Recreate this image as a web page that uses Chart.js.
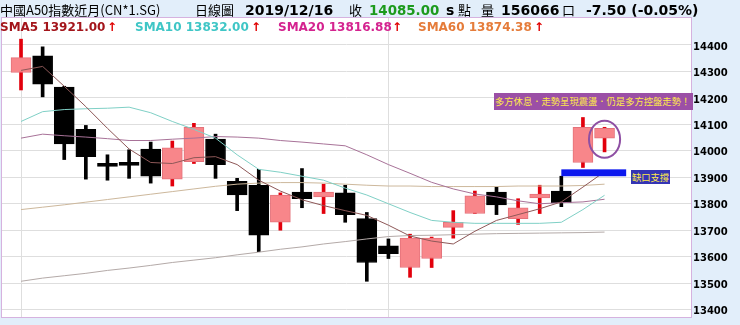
<!DOCTYPE html>
<html lang="zh-Hant">
<head>
<meta charset="utf-8">
<title>中國A50指數近月 日線圖</title>
<script src="https://cdn.jsdelivr.net/npm/chart.js@4.4.1/dist/chart.umd.min.js"></script>
<style>
  html, body { margin: 0; padding: 0; background: #e2eefa; }
  #wrap { position: relative; width: 740px; height: 325px; overflow: hidden; background: #e2eefa; }
  #chart { position: absolute; left: 0; top: 0; }
  .t { position: absolute; white-space: nowrap; line-height: 1; z-index: 2; }
  .cjk { font-family: "Noto Sans CJK TC", sans-serif; font-size: 13px; color: #000; top: 3px; }
  .hd  { font-family: "DejaVu Sans", sans-serif; font-weight: bold; font-size: 14px; color: #000; top: 3px; }
  .lg  { font-family: "DejaVu Sans", sans-serif; font-weight: bold; font-size: 12px; top: 21px; }
  .up  { color: #e00000; }
  .note { font-family: "Noto Sans CJK TC", sans-serif; color: #ffe94a; font-size: 9.3px;
          line-height: 17px; box-sizing: border-box; }
</style>
</head>
<body>
<div id="wrap">
  <canvas id="chart" width="740" height="325"></canvas>

  <!-- ── Encabezado ───────────────────────────────────────── -->
  <span class="t cjk" style="left:0">中國A50指數近月(CN*1.SG)</span>
  <span class="t cjk" style="left:195px">日線圖</span>
  <span class="t hd"  style="left:245px">2019/12/16</span>
  <span class="t cjk" style="left:349px">收</span>
  <span class="t hd"  style="left:369px;font-size:13.4px;top:3.5px;color:#1c9a1c">14085.00</span>
  <span class="t hd"  style="left:446px">s</span>
  <span class="t cjk" style="left:458px">點</span>
  <span class="t cjk" style="left:481px">量</span>
  <span class="t hd"  style="left:501px">156066</span>
  <span class="t cjk" style="left:562px">口</span>
  <span class="t hd"  style="left:586px">-7.50 (-0.05%)</span>

  <!-- ── Leyenda de medias ────────────────────────────────── -->
  <span class="t lg" style="left:0;color:#a3151b">SMA5 13921.00</span>
  <span class="t lg up" style="left:107px">↑</span>
  <span class="t lg" style="left:135px;color:#3fc6c6">SMA10 13832.00</span>
  <span class="t lg up" style="left:251px">↑</span>
  <span class="t lg" style="left:278px;color:#d4238f">SMA20 13816.88</span>
  <span class="t lg up" style="left:392px">↑</span>
  <span class="t lg" style="left:418px;color:#e57c3a">SMA60 13874.38</span>
  <span class="t lg up" style="left:534px">↑</span>

  <!-- ── Notas ────────────────────────────────────────────── -->
  <div class="t note" style="left:494px;top:93px;width:199px;height:17px;background:#9b4fa6;padding-left:1px">多方休息．走勢呈現震盪．仍是多方控盤走勢！</div>
  <div class="t note" style="left:631px;top:170px;width:39px;height:14px;line-height:14px;background:#3434b4;text-align:center">缺口支撐</div>
</div>

<script>
// ── Datos (velas diarias, índice 0..27) ──────────────────────
const openP  = [14296,14359,14241,14081,13952,13956,14007,13893,13959,14044,13885,13870,13730,13844,
                13826,13841,13744,13641,13559,13593,13711,13763,13844,13744,13822,13848,13956,14048];
const closeP = [14352,14252,14026,13978,13941,13945,13904,14011,14089,13948,13833,13681,13833,13819,
                13844,13759,13578,13611,13670,13670,13730,13830,13796,13785,13837,13804,14089,14085];
const highP  = [14422,14393,14244,14096,13985,14004,14033,14037,14104,14063,13896,13930,13841,13933,
                13874,13870,13767,13667,13685,13674,13774,13848,13863,13819,13870,13904,14126,14089];
const lowP   = [14230,14204,13967,13893,13889,13896,13878,13867,13952,13896,13774,13619,13700,13785,
                13763,13730,13507,13593,13522,13559,13670,13763,13759,13722,13763,13789,13937,13996];

const sma5   = [14304,14319,14244,14167,14085,14007,13956,13952,13974,13978,13948,13889,13848,13815,
                13793,13774,13756,13719,13678,13659,13648,13696,13737,13759,13781,13807,13863,13921];
const sma10  = [14111,14148,14156,14159,14161,14165,14144,14111,14081,14048,13985,13930,13919,13904,
                13889,13859,13833,13800,13767,13737,13730,13726,13726,13726,13726,13730,13778,13832];
const sma20  = [14048,14063,14057,14052,14046,14039,14039,14044,14048,14054,14052,14048,14039,14033,
                14026,14019,13985,13948,13915,13881,13856,13837,13826,13811,13800,13804,13807,13817];
const sma60  = [13778,13787,13796,13806,13816,13826,13836,13846,13856,13866,13874,13878,13880,13880,
                13878,13874,13870,13867,13867,13865,13865,13865,13865,13867,13867,13867,13869,13874];
const sma120 = [13507,13519,13528,13537,13548,13557,13567,13578,13587,13596,13607,13617,13628,13637,
                13648,13657,13667,13676,13680,13681,13683,13685,13687,13688,13689,13690,13691,13693];

const priceTicks = [13400,13500,13600,13700,13800,13900,14000,14100,14200,14300,14400];
const monthLines = [0, 17];

// gap de soporte y marca de la última vela
const gapFrom = 25, gapTo = 28, gapHigh = 13930, gapLow = 13904;
const ringAt = 27, ringPrice = 14044, ringHalfW = 0.72, ringHalfH = 70;

// ── Helpers ──────────────────────────────────────────────────
const idx = openP.map((_, i) => i);
const isUp = i => closeP[i] >= openP[i];
const pts = arr => arr.map((v, i) => ({ x: i, y: v }));

function _line(data, color) {
  return {
    type: 'line', data: pts(data), borderColor: color, borderWidth: 1,
    pointRadius: 0, tension: 0, fill: false, order: 0
  };
}

// ── Plugins ──────────────────────────────────────────────────
const plotFrame = {
  id: 'plotFrame',
  beforeDraw(chart) {
    const { ctx, chartArea: a } = chart;
    ctx.save();
    ctx.fillStyle = '#ffffff';
    ctx.fillRect(a.left, a.top, a.right - a.left, a.bottom - a.top);
    ctx.restore();
  },
  afterDraw(chart) {
    const { ctx, chartArea: a } = chart;
    ctx.save();
    ctx.strokeStyle = '#d6b2df';
    ctx.lineWidth = 1;
    ctx.strokeRect(a.left - 0.5, a.top - 0.5, a.right - a.left + 1, a.bottom - a.top + 1);
    ctx.restore();
  }
};

const gapMarks = {
  id: 'gapMarks',
  afterDatasetsDraw(chart) {
    const { ctx, scales: { x, y } } = chart;
    ctx.save();
    const x0 = x.getPixelForValue(gapFrom), x1 = x.getPixelForValue(gapTo);
    const y0 = y.getPixelForValue(gapHigh), y1 = y.getPixelForValue(gapLow);
    ctx.fillStyle = '#0c18ee';
    ctx.fillRect(x0, y0, x1 - x0, y1 - y0);

    const cx = x.getPixelForValue(ringAt), cy = y.getPixelForValue(ringPrice);
    const rx = x.getPixelForValue(ringAt + ringHalfW) - cx;
    const ry = cy - y.getPixelForValue(ringPrice + ringHalfH);
    ctx.strokeStyle = '#8e4fa3';
    ctx.lineWidth = 2;
    ctx.beginPath();
    ctx.ellipse(cx, cy, rx, ry, 0, 0, Math.PI * 2);
    ctx.stroke();
    ctx.restore();
  }
};

// ── Gráfica ──────────────────────────────────────────────────
new Chart(document.getElementById('chart'), {
  type: 'bar',
  data: {
    datasets: [
      _line(sma5,   '#8e5858'),
      _line(sma10,  '#7fd0c6'),
      _line(sma20,  '#a87298'),
      _line(sma60,  '#cdb89c'),
      _line(sma120, '#b4aaa8'),
      {
        // cuerpo
        data: idx.map(i => ({ x: i, y: [openP[i], closeP[i]] })),
        backgroundColor: idx.map(i => isUp(i) ? '#f8868a' : '#000000'),
        borderColor: idx.map(i => isUp(i) ? '#e4727a' : '#000000'),
        borderWidth: 1, borderSkipped: false,
        barThickness: 20, minBarLength: 3, grouped: false, order: 1
      },
      {
        // mecha
        data: idx.map(i => ({ x: i, y: [lowP[i], highP[i]] })),
        backgroundColor: idx.map(i => isUp(i) ? '#e2000c' : '#000000'),
        borderWidth: 0, barThickness: 3, grouped: false, order: 2
      }
    ]
  },
  options: {
    responsive: false, animation: false,
    layout: { padding: { left: 2, top: 18, right: 0, bottom: 2 } },
    plugins: { legend: { display: false }, tooltip: { enabled: false } },
    scales: {
      x: {
        type: 'linear', min: -0.88, max: 31, offset: false,
        afterBuildTicks: s => { s.ticks = monthLines.map(v => ({ value: v })); },
        afterFit: s => { s.height = 0; },
        grid: { color: '#dedede', drawTicks: false, offset: false },
        border: { display: false },
        ticks: { display: false }
      },
      y: {
        position: 'right', min: 13372, max: 14502,
        afterBuildTicks: s => { s.ticks = priceTicks.map(v => ({ value: v })); },
        afterFit: s => { s.width = 49; },
        grid: { color: '#dedede', drawTicks: false },
        border: { display: false },
        ticks: {
          padding: 2, labelOffset: 2, color: '#000',
          font: { family: 'DejaVu Sans', size: 10, weight: 'bold' },
          callback: v => String(v)
        }
      }
    }
  },
  plugins: [plotFrame, gapMarks]
});
</script>
</body>
</html>
